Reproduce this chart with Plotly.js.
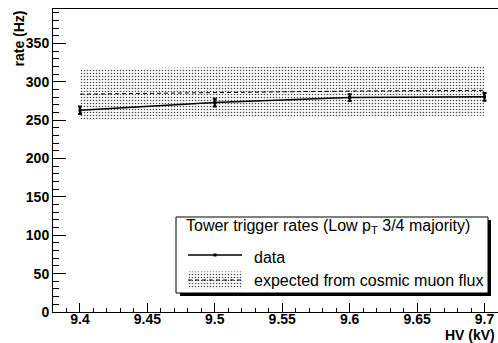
<!DOCTYPE html>
<html>
<head>
<meta charset="utf-8">
<script src="https://cdn.plot.ly/plotly-3.0.1.min.js"></script>
<style>html,body{margin:0;padding:0;background:#fff;}#chart{width:498px;height:343px;}</style>
</head>
<body>
<div id="chart"></div>
<script>
// ---- data ----
const hv = [9.4, 9.5, 9.6, 9.7];
const rate = [263, 273, 279.5, 280.5];
const rateErr = [5, 5, 4.5, 5];
const expected = [284, 286, 288, 289];
const expectedErr = [33, 33, 33, 33];
const xTicks = [9.4, 9.45, 9.5, 9.55, 9.6, 9.65, 9.7];
const xTickText = ['9.4', '9.45', '9.5', '9.55', '9.6', '9.65', '9.7'];
const yTicks = [0, 50, 100, 150, 200, 250, 300, 350];
const legendTitle = 'Tower trigger rates (Low p<sub>T</sub> 3/4 majority)';
const legendData = 'data';
const legendExpected = 'expected from cosmic muon flux';

// ---- layout helpers (pixel -> paper) ----
const L = 53, R = 498, T = 9, B = 312;
const px = x => (x - L) / (R - L);
const py = y => (B - y) / (B - T);

const FONT = 'Liberation Sans, Arial, Helvetica, sans-serif';
const pattern = {shape: '.', fgcolor: '#4a4a4a', bgcolor: 'rgba(255,255,255,0)', size: 3, solidity: 0.22};

const upper = expected.map((v, i) => v + expectedErr[i]);
const lower = expected.map((v, i) => v - expectedErr[i]);

const traces = [
  {x: hv, y: lower, mode: 'lines', line: {width: 0, color: 'rgba(0,0,0,0)'}, hoverinfo: 'skip', showlegend: false},
  {x: hv, y: upper, mode: 'lines', fill: 'tonexty', fillcolor: 'rgba(0,0,0,0)', fillpattern: pattern,
   line: {width: 0, color: 'rgba(0,0,0,0)'}, showlegend: false},
  {x: hv, y: expected, mode: 'lines', line: {color: 'black', width: 1, dash: '4px,3px'}, showlegend: false},
  {x: hv, y: rate, mode: 'lines+markers', line: {color: 'black', width: 1.5},
   marker: {symbol: 'square', size: 3, color: 'black'},
   error_y: {type: 'data', array: rateErr, visible: true, color: 'black', thickness: 2, width: 2},
   showlegend: false},
  // legend patch (overlay axes, 0..1 == plot area)
  {x: [px(188), px(242), px(242), px(188), px(188)], y: [py(271.5), py(271.5), py(289), py(289), py(271.5)],
   xaxis: 'x2', yaxis: 'y2', mode: 'lines', fill: 'toself', fillcolor: 'rgba(0,0,0,0)', fillpattern: pattern,
   line: {width: 0, color: 'rgba(0,0,0,0)'}, showlegend: false, hoverinfo: 'skip'},
  {x: [px(188), px(242)], y: [py(280), py(280)], xaxis: 'x2', yaxis: 'y2', mode: 'lines',
   line: {color: 'black', width: 1, dash: '4px,3px'}, showlegend: false, hoverinfo: 'skip'},
  {x: [px(188), px(242)], y: [py(255), py(255)], xaxis: 'x2', yaxis: 'y2', mode: 'lines',
   line: {color: 'black', width: 1.5}, showlegend: false, hoverinfo: 'skip'},
  {x: [px(215)], y: [py(255)], xaxis: 'x2', yaxis: 'y2', mode: 'markers',
   marker: {symbol: 'square', size: 3, color: 'black'}, showlegend: false, hoverinfo: 'skip'}
];

const layout = {
  width: 498, height: 343,
  margin: {l: L, r: 498 - R, t: T, b: 343 - B, pad: 0},
  paper_bgcolor: 'white', plot_bgcolor: 'rgba(0,0,0,0)',
  font: {family: FONT, color: 'black'},
  showlegend: false,
  xaxis: {
    range: [9.38, 9.71], tickvals: xTicks, ticktext: xTickText,
    ticks: 'inside', ticklen: 9, tickwidth: 1, tickcolor: 'black',
    minor: {dtick: 0.01, tick0: 9.4, ticks: 'inside', ticklen: 4, tickwidth: 1, tickcolor: 'black'},
    showline: true, linecolor: 'black', linewidth: 1, mirror: true,
    showgrid: false, zeroline: false, ticklabelstandoff: -6,
    tickfont: {family: FONT, size: 14, weight: 'bold'}
  },
  yaxis: {
    range: [0, 395], tickvals: yTicks,
    ticks: 'inside', ticklen: 13, tickwidth: 1, tickcolor: 'black',
    minor: {dtick: 10, tick0: 0, ticks: 'inside', ticklen: 6, tickwidth: 1, tickcolor: 'black'},
    showline: true, linecolor: 'black', linewidth: 1, mirror: false,
    showgrid: false, zeroline: false,
    tickfont: {family: FONT, size: 14, weight: 'bold'}
  },
  xaxis2: {overlaying: 'x', range: [0, 1], visible: false, fixedrange: true},
  yaxis2: {overlaying: 'y', range: [0, 1], visible: false, fixedrange: true},
  shapes: [
    {type: 'rect', xref: 'paper', yref: 'paper', x0: px(180), x1: px(491), y0: py(220), y1: py(296),
     fillcolor: 'black', line: {width: 0}, layer: 'below'},
    {type: 'rect', xref: 'paper', yref: 'paper', x0: px(176), x1: px(488), y0: py(217), y1: py(293),
     fillcolor: 'white', line: {width: 1, color: 'black'}, layer: 'below'}
  ],
  annotations: [
    {text: 'rate (Hz)', xref: 'paper', yref: 'paper', x: px(18), y: py(38.5), textangle: -90,
     xanchor: 'center', yanchor: 'middle', showarrow: false, font: {family: FONT, size: 14, weight: 'bold'}},
    {text: 'HV (kV)', xref: 'paper', yref: 'paper', x: px(497), y: py(335),
     xanchor: 'right', yanchor: 'middle', showarrow: false, font: {family: FONT, size: 14, weight: 'bold'}},
    {text: legendTitle, xref: 'paper', yref: 'paper', x: px(184), y: py(226),
     xanchor: 'left', yanchor: 'middle', showarrow: false, font: {family: FONT, size: 16}},
    {text: legendData, xref: 'paper', yref: 'paper', x: px(252), y: py(257),
     xanchor: 'left', yanchor: 'middle', showarrow: false, font: {family: FONT, size: 16}},
    {text: legendExpected, xref: 'paper', yref: 'paper', x: px(252), y: py(280),
     xanchor: 'left', yanchor: 'middle', showarrow: false, font: {family: FONT, size: 16}}
  ]
};

Plotly.newPlot('chart', traces, layout, {staticPlot: true, displayModeBar: false});
</script>
</body>
</html>
